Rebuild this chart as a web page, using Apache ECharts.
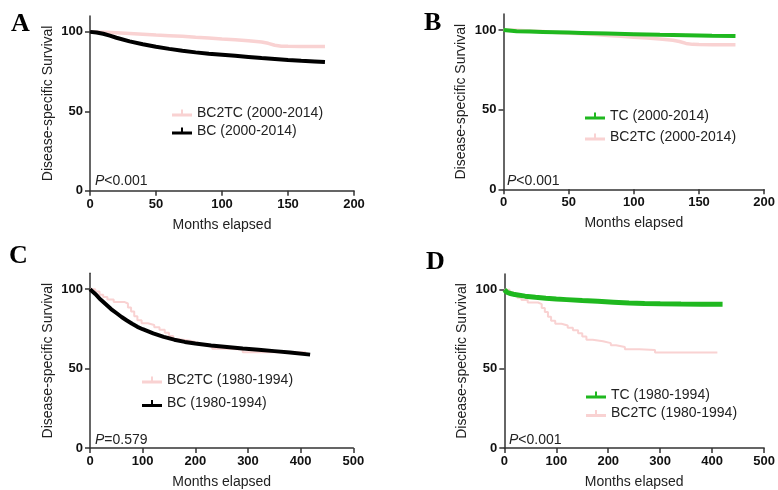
<!DOCTYPE html>
<html>
<head>
<meta charset="utf-8">
<script src="https://cdn.jsdelivr.net/npm/echarts@6/dist/echarts.min.js"></script>
<style>html,body{margin:0;padding:0;background:#fff}#c{width:778px;height:490px}</style>
</head>
<body>
<div id="c"></div>
<script>
// ---- data ----
const panelLetters = ['A', 'B', 'C', 'D'];
const pValues = ['<0.001', '<0.001', '=0.579', '<0.001'];
const yTicks = [0, 50, 100];

// 2000-2014 cohorts (months, survival %)
const bc2tc0014Months = [0, 10, 20, 30, 40, 50, 60, 70, 80, 90, 100, 110, 120, 130, 135, 140, 145, 150, 160, 170, 178];
const bc2tc0014Surv   = [100, 99.8, 99.4, 99, 98.5, 98, 97.6, 97.2, 96.6, 96.1, 95.5, 95, 94.4, 93.6, 92.8, 91.6, 91, 90.9, 90.8, 90.8, 90.8];
const bc0014Months = [0, 5, 10, 15, 20, 30, 40, 50, 60, 70, 80, 90, 100, 110, 120, 130, 140, 150, 160, 170, 178];
const bc0014Surv   = [100, 99.6, 98.8, 97.6, 96.3, 94, 92.2, 90.6, 89.3, 88.1, 87.1, 86.3, 85.6, 84.9, 84.2, 83.5, 82.9, 82.3, 81.8, 81.4, 81];
const tc0014Months = [0, 10, 20, 30, 40, 50, 60, 80, 100, 120, 140, 160, 178];
const tc0014Surv   = [100, 99.2, 99, 98.8, 98.6, 98.4, 98.2, 97.8, 97.4, 97, 96.7, 96.4, 96.2];

// 1980-1994 cohorts
const bc2tc8094Months = [0, 10, 18, 25, 33, 45, 65, 72, 78, 84, 90, 98, 110, 122, 132, 142, 150, 158, 170, 190, 205, 215, 232, 260, 290, 330, 370, 410];
const bc2tc8094Surv   = [100, 98.5, 96.5, 95, 93.5, 92, 91, 88.5, 86, 83, 80.5, 78.5, 77.5, 76, 74.5, 72.5, 70.5, 68.5, 67.5, 66.3, 65, 63.8, 62.5, 62, 60.3, 60.3, 60.3, 60.3];
const bc8094Months = [0, 10, 20, 30, 40, 50, 60, 70, 80, 90, 100, 120, 140, 160, 180, 200, 230, 260, 290, 320, 350, 380, 418];
const bc8094Surv   = [100, 97, 93.5, 90.5, 87.5, 85, 82.5, 80.3, 78.2, 76.3, 74.8, 72.2, 70, 68.2, 66.8, 65.8, 64.6, 63.6, 62.6, 61.8, 61, 60.2, 58.8];
const tc8094Months = [0, 5, 10, 20, 40, 60, 80, 100, 120, 150, 180, 210, 240, 270, 300, 340, 380, 420];
const tc8094Surv   = [100, 98.5, 97.8, 97, 96, 95.3, 94.7, 94.2, 93.8, 93.2, 92.7, 92.2, 91.7, 91.4, 91.2, 91, 90.9, 90.8];

// ---- styling ----
const PINK = '#f9d2d2', BLACK = '#000000', GREEN = '#1fb81f';
const FONT = 'Liberation Sans';
const zip = (a, b) => a.map((v, i) => [v, b[i]]);

const grids = [
  { left: 90, top: 16, width: 264, height: 174.7 },
  { left: 503.5, top: 14.1, width: 263, height: 175.2 },
  { left: 90, top: 273.3, width: 263.3, height: 176 },
  { left: 504.3, top: 274, width: 263.7, height: 175.3 }
];
const xMax = [200, 200, 500, 500];
const xInt = [50, 50, 100, 100];

const axisLine = { lineStyle: { color: '#333', width: 1.5 } };
const xAxes = grids.map((g, i) => ({
  type: 'value', gridIndex: i, min: 0, max: xMax[i], interval: xInt[i],
  name: 'Months elapsed', nameLocation: 'middle', nameGap: 27,
  nameTextStyle: { fontFamily: FONT, fontSize: 14, color: '#222' },
  axisLine: axisLine, axisTick: { length: 5, lineStyle: { color: '#333', width: 1.5 } },
  axisLabel: { fontFamily: FONT, fontSize: 13, fontWeight: 'bold', color: '#111', margin: 7 },
  splitLine: { show: false }
}));
const yAxes = grids.map((g, i) => ({
  type: 'value', gridIndex: i, min: 0, max: 110, interval: 50,
  name: 'Disease-specific Survival', nameLocation: 'middle', nameGap: 35,
  nameTextStyle: { fontFamily: FONT, fontSize: 14, color: '#222' },
  axisLine: axisLine,
  axisTick: { length: 5, customValues: yTicks, lineStyle: { color: '#333', width: 1.5 } },
  axisLabel: { fontFamily: FONT, fontSize: 13, fontWeight: 'bold', color: '#111', margin: 7, customValues: yTicks },
  splitLine: { show: false }
}));

function line(name, idx, months, surv, color, width, step) {
  return {
    type: 'line', name: name, xAxisIndex: idx, yAxisIndex: idx,
    data: zip(months, surv), showSymbol: false, symbol: 'none',
    step: step ? 'end' : false, color: color,
    lineStyle: { color: color, width: width }, silent: true
  };
}

const series = [
  line('BC2TC (2000-2014)', 0, bc2tc0014Months, bc2tc0014Surv, PINK, 3.5, false),
  line('BC (2000-2014)', 0, bc0014Months, bc0014Surv, BLACK, 4, false),
  line('BC2TC (2000-2014)', 1, bc2tc0014Months, bc2tc0014Surv, PINK, 3.5, false),
  line('TC (2000-2014)', 1, tc0014Months, tc0014Surv, GREEN, 4, false),
  line('BC2TC (1980-1994)', 2, bc2tc8094Months, bc2tc8094Surv, PINK, 2, true),
  line('BC (1980-1994)', 2, bc8094Months, bc8094Surv, BLACK, 4, false),
  line('BC2TC (1980-1994)', 3, bc2tc8094Months, bc2tc8094Surv, PINK, 2, true),
  line('TC (1980-1994)', 3, tc8094Months, tc8094Surv, GREEN, 5, false)
];

const ICON = 'path://M0,4H20V7H0Z M9,0H11V7H9Z';
function legend(data, left, top, gap) {
  return {
    data: data, left: left, top: top, orient: 'vertical', itemGap: gap,
    itemWidth: 20, itemHeight: 8, icon: ICON, selectedMode: false,
    textStyle: { fontFamily: FONT, fontSize: 14, color: '#222' }
  };
}
const legends = [
  legend(['BC2TC (2000-2014)', 'BC (2000-2014)'], 167, 101, 4),
  legend(['TC (2000-2014)', 'BC2TC (2000-2014)'], 580, 104, 7),
  legend(['BC2TC (1980-1994)', 'BC (1980-1994)'], 137, 368, 9.5),
  legend(['TC (1980-1994)', 'BC2TC (1980-1994)'], 581, 383, 4.5)
];

const letterPos = [[11, 24], [424, 23], [9, 256], [426, 262]];
const pPos = [[95, 181.5], [507, 181], [95, 440], [509, 440]];
const graphic = [];
panelLetters.forEach((t, i) => {
  graphic.push({ type: 'text', x: letterPos[i][0], y: letterPos[i][1],
    style: { text: t, font: 'bold 26px "Liberation Serif"', fill: '#000', verticalAlign: 'middle' } });
});
pValues.forEach((t, i) => {
  graphic.push({ type: 'text', x: pPos[i][0], y: pPos[i][1],
    style: { text: '{i|P}' + t, font: '14px "Liberation Sans"', fill: '#222', verticalAlign: 'middle',
      rich: { i: { fontStyle: 'italic', fontFamily: FONT, fontSize: 14, fill: '#222' } } } });
});

const chart = echarts.init(document.getElementById('c'), null, { renderer: 'canvas' });
chart.setOption({
  animation: false,
  backgroundColor: '#fff',
  grid: grids,
  xAxis: xAxes,
  yAxis: yAxes,
  legend: legends,
  series: series,
  graphic: graphic
});
</script>
</body>
</html>
